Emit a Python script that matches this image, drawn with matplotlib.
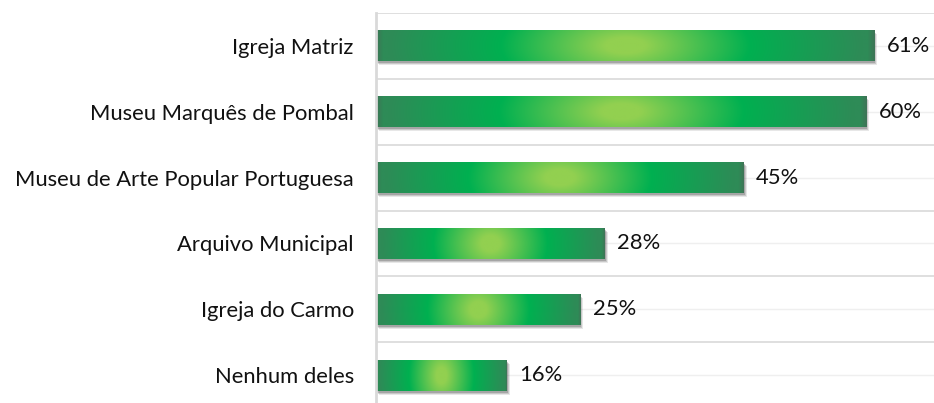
import numpy as np
import matplotlib
matplotlib.use("Agg")
import matplotlib.pyplot as plt
from matplotlib.colors import to_rgb
from matplotlib.patches import Rectangle
import matplotlib.transforms as mtransforms

categories = ["Igreja Matriz", "Museu Marquês de Pombal", "Museu de Arte Popular Portuguesa",
              "Arquivo Municipal", "Igreja do Carmo", "Nenhum deles"]
values = [61, 60, 45, 28, 25, 16]
labels = ["61%", "60%", "45%", "28%", "25%", "16%"]

plt.rcParams['font.family'] = ['Lato', 'DejaVu Sans']


def gradient_image(nx=300, ny=40):
    light = np.array(to_rgb("#92D050"))
    mid = np.array(to_rgb("#00B050"))
    edge = np.array(to_rgb("#2E8B57"))
    x = np.linspace(-1, 1, nx)
    y = np.linspace(-1, 1, ny)
    X, Y = np.meshgrid(x, y)
    t = np.clip(np.sqrt(X ** 2 + (0.15 * Y) ** 2), 0, 1)
    a = np.clip((t - 0.08) / 0.42, 0, 1)[..., None]
    b = np.clip((t - 0.5) / 0.45, 0, 1)[..., None]
    first = light * (1 - a) + mid * a
    second = mid * (1 - b) + edge * b
    img = np.where((t < 0.5)[..., None], first, second)
    # darker strip at extreme left/right edges
    shade = np.clip((np.abs(X) - 0.975) / 0.025, 0, 1)[..., None]
    img = img * (1 - 0.4 * shade) + np.array(to_rgb("#555555")) * 0.4 * shade
    return img


fig = plt.figure(figsize=(9.34, 4.03), dpi=100)
ax = fig.add_axes([376 / 934, -5 / 403, 558 / 934, 395 / 403])

n = len(categories)
ypos = np.arange(n)

# gridlines at category boundaries and faint ones at centers
for b in np.arange(-0.5, n, 1):
    ax.axhline(b, color="#d9d9d9", lw=1.2, zorder=0)
for yc in ypos:
    ax.axhline(yc, color="#efefef", lw=1.0, zorder=0)

img = gradient_image()
h = 0.47
for yc, v, lab in zip(ypos, values, labels):
    # shadow
    for dx, dy, al in [(3, -4, 0.12), (2, -3, 0.18), (1, -2, 0.25)]:
        tr = mtransforms.offset_copy(ax.transData, fig=fig, x=dx * 0.72, y=dy * 0.72, units='points')
        ax.add_patch(Rectangle((0, yc - h / 2), v, h, transform=tr,
                               facecolor="#404040", edgecolor="none", alpha=al, zorder=1))
    ax.imshow(img, extent=[0, v, yc + h / 2, yc - h / 2], aspect='auto',
              interpolation='bilinear', zorder=2)
    ax.text(v + 1.5, yc, lab, va='center', ha='left', fontsize=15.8, color="#111111", zorder=3)

ax.set_xlim(0, 68.3)
ax.set_ylim(n - 0.5, -0.5)
ax.set_yticks(ypos)
ax.set_yticklabels(categories, fontsize=15.8, color="#111111")
ax.tick_params(axis='y', length=0, pad=16)
ax.set_xticks([])
for s in ["top", "right", "bottom"]:
    ax.spines[s].set_visible(False)
ax.spines["left"].set_color("#d9d9d9")
ax.spines["left"].set_linewidth(2)

fig.savefig("out.png", dpi=100)
